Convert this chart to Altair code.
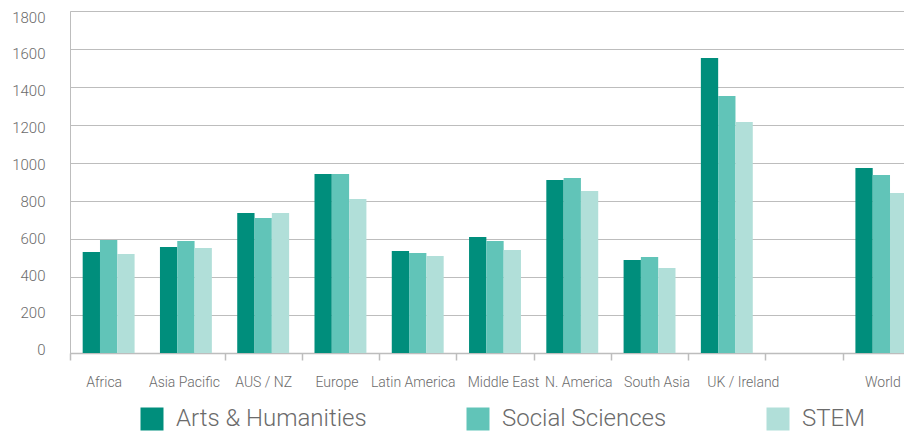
import altair as alt
import pandas as pd

# ---- data ----
categories = ["Africa", "Asia Pacific", "AUS / NZ", "Europe", "Latin America",
              "Middle East", "N. America", "South Asia", "UK / Ireland", " ", "World"]
regions = ["Africa", "Asia Pacific", "AUS / NZ", "Europe", "Latin America",
           "Middle East", "N. America", "South Asia", "UK / Ireland", "World"]
arts = [531, 558, 737, 942, 537, 611, 911, 489, 1553, 974]
social = [595, 589, 711, 942, 526, 589, 921, 505, 1353, 937]
stem = [521, 553, 737, 810, 510, 542, 853, 447, 1216, 842]
series = ["Arts & Humanities", "Social Sciences", "STEM"]
colors = ["#008E7C", "#61C4B8", "#B1DFD9"]
y_ticks = [0, 200, 400, 600, 800, 1000, 1200, 1400, 1600, 1800]

rows = []
for name, vals in zip(series, [arts, social, stem]):
    for r, v in zip(regions, vals):
        rows.append({"region": r, "series": name, "value": v})
df = pd.DataFrame(rows)

FONT = "Roboto"
GRAY = "#6b6b6b"
LINE = "#bdbdbd"

# small horizontal nudges of the category labels (styling only)
label_shift = {"Africa": -5, "Asia Pacific": -2, "AUS / NZ": 0, "Europe": -4,
               "Latin America": -5, "Middle East": 8, "N. America": 6,
               "South Asia": 7, "UK / Ireland": 16, "World": 1}
shift_expr = ""
for k, v in label_shift.items():
    shift_expr += f"datum.value === '{k}' ? {v} : "
shift_expr += "0"

chart = alt.Chart(df).mark_bar(clip=True).encode(
    x=alt.X(
        "region:N",
        sort=categories,
        scale=alt.Scale(domain=categories, range=[0, 850],
                        paddingInner=0, paddingOuter=0),
        axis=alt.Axis(title=None, labelAngle=0, tickBand="extent",
                      domainColor=LINE, domainWidth=1.5,
                      tickColor=LINE, tickWidth=1.5, tickSize=7,
                      tickOpacity={"condition": {"test": "datum.value === 'Africa'", "value": 0},
                                   "value": 1},
                      labelFont=FONT, labelFontSize=14, labelColor=GRAY,
                      labelFontWeight=300, labelPadding=15, grid=False,
                      labelOffset=alt.ExprRef(shift_expr)),
    ),
    xOffset=alt.XOffset("series:N", sort=series,
                        scale=alt.Scale(domain=series, paddingInner=0, paddingOuter=0.733)),
    y=alt.Y(
        "value:Q",
        scale=alt.Scale(domain=[0, 1800], nice=False),
        axis=alt.Axis(title=None, values=y_ticks, ticks=False, format="d",
                      domainColor=LINE, domainWidth=1,
                      gridColor=LINE, gridWidth=1,
                      labelFont=FONT, labelFontSize=15, labelColor=GRAY,
                      labelFontWeight=300, labelPadding=25,
                      labelOffset=alt.ExprRef("datum.value / 1800 * 10 - 4")),
    ),
    color=alt.Color(
        "series:N",
        sort=series,
        scale=alt.Scale(domain=series, range=colors),
        legend=alt.Legend(title=None, orient="none", legendX=70, legendY=396,
                          direction="horizontal", columns=3, gridAlign="each",
                          columnPadding=99, symbolType="square", symbolSize=529,
                          symbolStrokeWidth=0, symbolOpacity=1,
                          labelFont=FONT, labelFontSize=24, labelFontWeight=300,
                          labelColor=GRAY, labelOffset=12, labelLimit=400,
                          padding=0),
    ),
).properties(
    width=834,
    height=342,
    autosize=alt.AutoSizeParams(type="none"),
    padding={"left": 62, "top": 3, "right": 0, "bottom": 80},
).configure_view(stroke=None).configure(background="white")

chart.save("out.html", embed_options={"renderer": "svg", "actions": False})
